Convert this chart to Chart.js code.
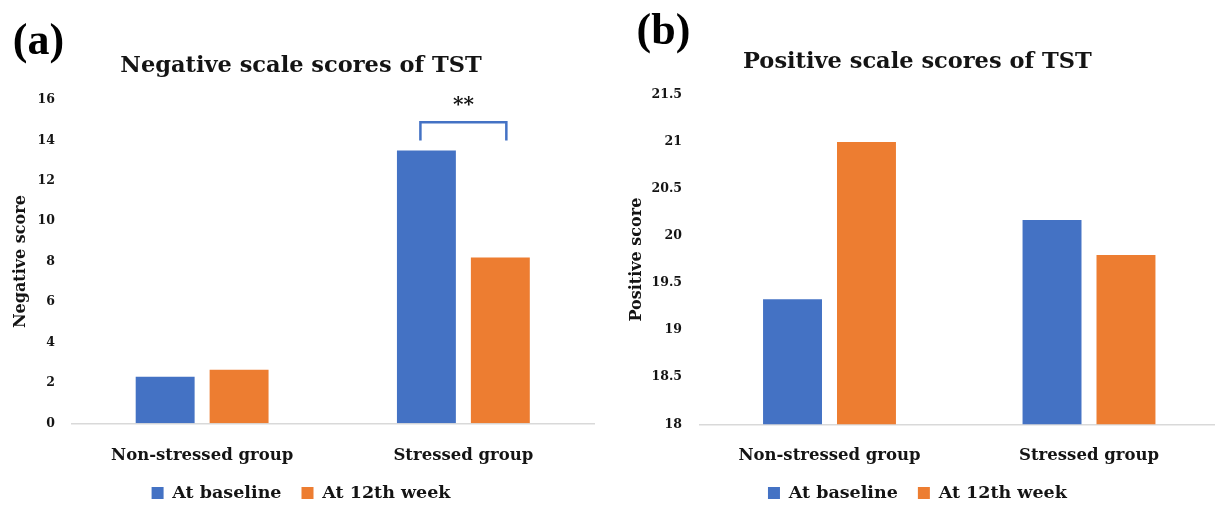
<!DOCTYPE html>
<html>
<head>
<meta charset="utf-8">
<script src="https://cdn.jsdelivr.net/npm/chart.js@4.4.0/dist/chart.umd.min.js"></script>
<style>
  html, body { margin: 0; padding: 0; background: #fff; overflow: hidden; width: 1215px; height: 505px; }
  #panelA { position: absolute; left: 0; top: 0; }
  #panelB { position: absolute; left: 604px; top: 0; }
</style>
</head>
<body>
<canvas id="panelA" width="602" height="505"></canvas>
<canvas id="panelB" width="625" height="505"></canvas>
<script>
// ---- data ----
const groups = ['Non-stressed group', 'Stressed group'];
const seriesNames = ['At baseline', 'At 12th week'];

const negBaseline = [2.3, 13.5];
const negWeek12 = [2.65, 8.2];
const negTickValues = [0, 2, 4, 6, 8, 10, 12, 14, 16];

const posBaseline = [19.33, 20.17];
const posWeek12 = [21.0, 19.8];
const posTickValues = [18, 18.5, 19, 19.5, 20, 20.5, 21, 21.5];

// significance bracket over the stressed group (negative scale)
const sigGroupIndex = 1;
const sigBracketTop = 14.9;
const sigBracketFoot = 14.0;
const sigStarsAt = 15.7;
const sigText = '**';

// ---- style ----
const BLUE = '#4472C4';
const ORANGE = '#ED7D31';
const INK = '#141414';
const AXIS_LINE = '#D9D9D9';
const SERIF = "'DejaVu Serif', 'Liberation Serif', serif";
const LABEL_SERIF = "'Liberation Serif', serif";

function serif(size) { return { family: SERIF, size: size, weight: 'bold' }; }

function panelLabel(text, x, y) {
  return {
    id: 'panelLabel',
    afterDraw(chart) {
      const ctx = chart.ctx;
      ctx.save();
      ctx.font = 'bold 44px ' + LABEL_SERIF;
      ctx.fillStyle = '#000';
      ctx.textAlign = 'center';
      ctx.textBaseline = 'middle';
      ctx.fillText(text, x, y);
      ctx.restore();
    }
  };
}

const sigBracket = {
  id: 'sigBracket',
  afterDatasetsDraw(chart) {
    const y = chart.scales.y;
    const b0 = chart.getDatasetMeta(0).data[sigGroupIndex];
    const b1 = chart.getDatasetMeta(1).data[sigGroupIndex];
    const x0 = b0.x - 6, x1 = b1.x + 6;
    const yTop = y.getPixelForValue(sigBracketTop);
    const yFoot = y.getPixelForValue(sigBracketFoot);
    const ctx = chart.ctx;
    ctx.save();
    ctx.strokeStyle = BLUE;
    ctx.lineWidth = 2.5;
    ctx.lineJoin = 'miter';
    ctx.beginPath();
    ctx.moveTo(x0, yFoot);
    ctx.lineTo(x0, yTop);
    ctx.lineTo(x1, yTop);
    ctx.lineTo(x1, yFoot);
    ctx.stroke();
    ctx.font = 'bold 20px ' + SERIF;
    ctx.fillStyle = INK;
    ctx.textAlign = 'center';
    ctx.textBaseline = 'middle';
    ctx.fillText(sigText, (x0 + x1) / 2, y.getPixelForValue(sigStarsAt));
    ctx.restore();
  }
};

function buildChart(canvasId, cfg) {
  return new Chart(document.getElementById(canvasId), {
    type: 'bar',
    data: {
      labels: groups,
      datasets: [
        { label: seriesNames[0], data: cfg.first, backgroundColor: BLUE },
        { label: seriesNames[1], data: cfg.second, backgroundColor: ORANGE }
      ]
    },
    options: {
      responsive: false,
      animation: false,
      events: [],
      layout: { padding: { left: cfg.padLeft, right: cfg.padRight, top: 0, bottom: -6.75 } },
      datasets: { bar: { categoryPercentage: cfg.catPct, barPercentage: 0.797 } },
      plugins: {
        title: {
          display: true,
          text: cfg.title,
          color: INK,
          font: serif(22.5),
          padding: { top: cfg.titleTop, bottom: cfg.titleBottom }
        },
        legend: {
          position: 'bottom',
          labels: {
            color: INK,
            font: serif(17.5),
            boxWidth: 12,
            boxHeight: 12,
            padding: 20
          }
        },
        tooltip: { enabled: false }
      },
      scales: {
        x: {
          grid: { display: false, drawTicks: false },
          border: { display: true, color: AXIS_LINE, width: 1.5 },
          ticks: { color: INK, font: serif(16.5), padding: cfg.xPad },
          afterFit(s) { s.height = cfg.xHeight; }
        },
        y: {
          min: cfg.ticks[0],
          max: cfg.ticks[cfg.ticks.length - 1],
          grid: { display: false, drawTicks: false },
          border: { display: false },
          ticks: {
            color: INK,
            font: serif(12.5),
            padding: cfg.yPad,
            callback: (value) => String(value)
          },
          afterBuildTicks(s) { s.ticks = cfg.ticks.map(v => ({ value: v })); },
          title: {
            display: true,
            text: cfg.yTitle,
            color: INK,
            font: serif(16),
            padding: { top: cfg.yTitlePad, bottom: 0 }
          },
          afterFit(s) { s.width = cfg.yWidth; }
        }
      }
    },
    plugins: cfg.plugins
  });
}

buildChart('panelA', {
  first: negBaseline,
  second: negWeek12,
  ticks: negTickValues,
  title: 'Negative scale scores of TST',
  yTitle: 'Negative score',
  titleTop: 52.5, titleBottom: 20.5,
  padLeft: 8, padRight: 8,
  catPct: 0.566,
  xHeight: 41, xPad: 22.6,
  yWidth: 63.5, yPad: 16.5, yTitlePad: 3.5,
  plugins: [sigBracket, panelLabel('(a)', 38.5, 43)]
});

buildChart('panelB', {
  first: posBaseline,
  second: posWeek12,
  ticks: posTickValues,
  title: 'Positive scale scores of TST',
  yTitle: 'Positive score',
  titleTop: 48.5, titleBottom: 19.5,
  padLeft: 12, padRight: 10.25,
  catPct: 0.570,
  xHeight: 40, xPad: 21.6,
  yWidth: 83.75, yPad: 17.75, yTitlePad: 11.4,
  plugins: [panelLabel('(b)', 59.5, 32.5)]
});
</script>
</body>
</html>
